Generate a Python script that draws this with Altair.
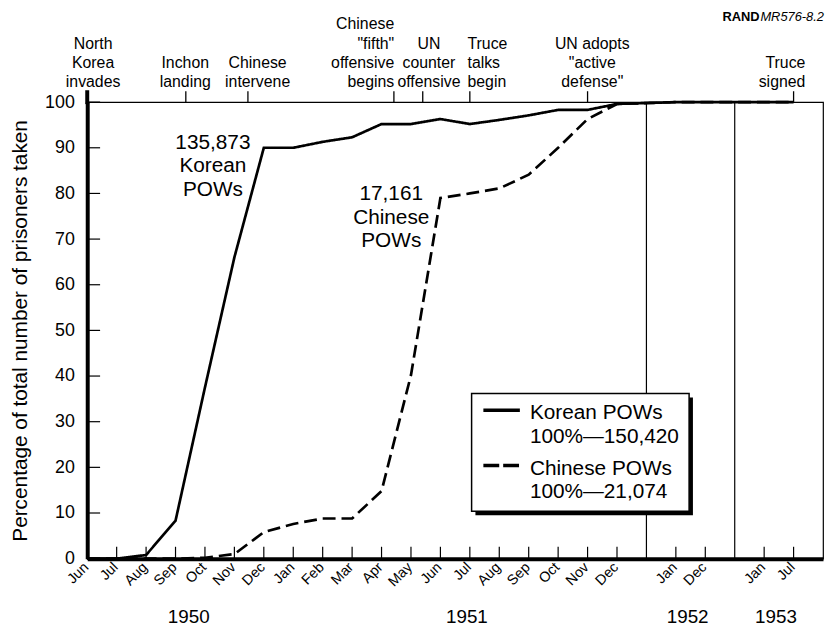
import altair as alt
import pandas as pd

FONT = "Liberation Sans"

# ---------------- data ----------------
month_labels = ["Jun", "Jul", "Aug", "Sep", "Oct", "Nov", "Dec",
                "Jan", "Feb", "Mar", "Apr", "May", "Jun", "Jul", "Aug", "Sep", "Oct", "Nov", "Dec",
                "Jan", "Dec", "Jan", "Jul"]
month_pos = list(range(19)) + [20, 21, 23, 24]
korean = [0, 0, 0.8, 8.3, 37.5, 66, 90, 90, 91.3, 92.3, 95.2, 95.2, 96.3, 95.2,
          96.1, 97.1, 98.3, 98.3, 99.6, 100, 100, 100, 100]
chinese = [0, 0, 0, 0, 0.2, 1.0, 5.8, 7.6, 8.8, 8.8, 14.8, 40.2, 79, 80,
           81.1, 84.1, 90, 96.3, 99.6, 100, 100, 100, 100]
year_labels = ["1950", "1951", "1952", "1953"]
year_centers = [3.45, 12.9, 20.4, 23.4]
year_dividers = [19, 22]
event_labels = ["North\nKorea\ninvades", "Inchon\nlanding", "Chinese\nintervene",
                'Chinese\n"fifth"\noffensive\nbegins', "UN\ncounter\noffensive",
                "Truce\ntalks\nbegin", 'UN adopts\n"active\ndefense"', "Truce\nsigned"]
event_pos = [0, 3.35, 5.46, 10.42, 11.4, 13.0, 17.0, 24.0]
series_notes = ["135,873\nKorean\nPOWs", "17,161\nChinese\nPOWs"]
legend_texts = ["Korean POWs\n100%\u2014150,420", "Chinese POWs\n100%\u201421,074"]
series_names = ["Korean POWs", "Chinese POWs"]
y_ticks = [0, 10, 20, 30, 40, 50, 60, 70, 80, 90, 100]

# ---------------- layout (annotation anchors) ----------------
event_text_x = [0.2, 3.33, 5.79, 10.43, 11.61, 12.92, 17.16, 24.4]
event_align = ["center", "center", "center", "right", "center", "left", "center", "right"]
EV_BASE = -15      # pixel baseline of the last line of each event label
EV_LH = 19.5       # line height of the event labels
note_x = [4.27, 10.33]
note_y = [91.0, 79.8]
leg_box = dict(x=13.06, x2=20.45, y=36.2, y2=10.4)
leg_shadow = dict(x=13.19, x2=20.58, y=35.3, y2=9.5)
leg_line_x = (13.46, 14.70)
leg_line_y = [32.5, 20.4]
leg_text_x = 15.04
leg_text_y = [31.9, 19.7]

W, H = 743, 461
xs = alt.Scale(domain=[0, 25], nice=False, zero=False)
ys = alt.Scale(domain=[0, 100], nice=False)


def X(field):
    return alt.X(field, scale=xs)


def Y(field):
    return alt.Y(field, scale=ys)


# ---------------- frames ----------------
lines_df = pd.DataFrame({
    "pos": month_pos * 2,
    "pct": korean + chinese,
    "series": [series_names[0]] * len(month_pos) + [series_names[1]] * len(month_pos),
})

base_x = alt.X("pos:Q", scale=xs,
               axis=alt.Axis(values=month_pos, labels=False, ticks=False, grid=False,
                             domainWidth=4, domainColor="black", title=None))
base_y = alt.Y("pct:Q", scale=ys,
               axis=alt.Axis(values=y_ticks, ticks=False, grid=False, domainWidth=4,
                             domainColor="black", labelColor="black", labelFontSize=18,
                             labelFont=FONT, labelPadding=13, labelOverlap=False,
                             title="Percentage of total number of prisoners taken",
                             titleFont=FONT, titleFontSize=21, titleFontWeight="normal",
                             titleColor="black", titlePadding=14))

lines = alt.Chart(lines_df).mark_line(strokeWidth=2.7, color="black").encode(
    x=base_x, y=base_y,
    strokeDash=alt.StrokeDash("series:N",
                              scale=alt.Scale(domain=series_names, range=[[1, 0], [13, 6]]),
                              legend=None),
    detail="series:N",
)

month_df = pd.DataFrame({"pos": month_pos, "label": month_labels})
month_text = alt.Chart(month_df).mark_text(
    angle=315, align="right", baseline="middle", fontSize=14.5, font=FONT,
    color="black", dx=-1).encode(
    x=X("pos:Q"), y=alt.value(H + 6), text="label:N")

div_df = pd.DataFrame({"pos": year_dividers})
dividers = alt.Chart(div_df).mark_rule(color="black", strokeWidth=1.2).encode(
    x=X("pos:Q"), y=alt.value(0), y2=alt.value(H))

xt_df = pd.DataFrame({"pos": month_pos[1:]})
xticks = alt.Chart(xt_df).mark_rule(color="black", strokeWidth=1.2).encode(
    x=X("pos:Q"), y=alt.value(H - 12), y2=alt.value(H))

yt_df = pd.DataFrame({"pct": y_ticks[1:]})
yticks = alt.Chart(yt_df).mark_rule(color="black", strokeWidth=1.2).encode(
    y=Y("pct:Q"), x=alt.value(0), x2=alt.value(13))

ev_df = pd.DataFrame({"pos": event_pos})
ev_ticks = alt.Chart(ev_df).mark_rule(color="black", strokeWidth=1.3).encode(
    x=X("pos:Q"), y=alt.value(-11), y2=alt.value(0))
axis_ext = alt.Chart(ev_df.iloc[[0]]).mark_rule(color="black", strokeWidth=4).encode(
    x=X("pos:Q"), y=alt.value(-12), y2=alt.value(2))

# one row per text line of each event label, stacked upward from a common baseline
ev_rows = []
for lab, tx, al in zip(event_labels, event_text_x, event_align):
    parts = lab.split("\n")
    n = len(parts)
    for i, t in enumerate(parts):
        ev_rows.append({"tx": tx, "align": al, "line": t,
                        "ypix": EV_BASE - (n - 1 - i) * EV_LH})
ev_lines_df = pd.DataFrame(ev_rows)

ev_text_layers = []
for a in ["center", "left", "right"]:
    ev_text_layers.append(
        alt.Chart(ev_lines_df).transform_filter(alt.datum.align == a).mark_text(
            align=a, baseline="alphabetic", fontSize=16, font=FONT, color="black").encode(
            x=X("tx:Q"), y=alt.Y("ypix:Q", scale=None, axis=None), text="line:N"))

yr_df = pd.DataFrame({"pos": year_centers, "label": year_labels})
years = alt.Chart(yr_df).mark_text(fontSize=19, font=FONT, color="black",
                                   baseline="middle").encode(
    x=X("pos:Q"), y=alt.value(520), text="label:N")

note_df = pd.DataFrame({"pos": note_x, "pct": note_y, "label": series_notes})
notes = alt.Chart(note_df).mark_text(fontSize=21, font=FONT, color="black",
                                     lineBreak="\n", lineHeight=23.5,
                                     baseline="middle").encode(
    x=X("pos:Q"), y=Y("pct:Q"), text="label:N")

shadow_df = pd.DataFrame([leg_shadow])
shadow = alt.Chart(shadow_df).mark_rect(color="black").encode(
    x=X("x:Q"), x2="x2:Q", y=Y("y:Q"), y2="y2:Q")
box_df = pd.DataFrame([leg_box])
box = alt.Chart(box_df).mark_rect(fill="white", stroke="black", strokeWidth=1.5).encode(
    x=X("x:Q"), x2="x2:Q", y=Y("y:Q"), y2="y2:Q")

leg_df = pd.DataFrame({"series": series_names, "x": [leg_line_x[0]] * 2,
                       "x2": [leg_line_x[1]] * 2, "ly": leg_line_y,
                       "tx": [leg_text_x] * 2, "ty": leg_text_y, "label": legend_texts})
leg_solid = alt.Chart(leg_df.iloc[[0]]).mark_rule(color="black", strokeWidth=3.5).encode(
    x=X("x:Q"), x2="x2:Q", y=Y("ly:Q"))
leg_dash = alt.Chart(leg_df.iloc[[1]]).mark_rule(color="black", strokeWidth=3.5,
                                                  strokeDash=[16, 4]).encode(
    x=X("x:Q"), x2="x2:Q", y=Y("ly:Q"))
leg_text = alt.Chart(leg_df).mark_text(align="left", baseline="middle", fontSize=21,
                                       font=FONT, color="black", lineBreak="\n",
                                       lineHeight=24).encode(
    x=X("tx:Q"), y=Y("ty:Q"), text="label:N")

hdr_df = pd.DataFrame({"t": ["RAND", "MR576-8.2"]})
hdr_bold = alt.Chart(hdr_df.iloc[[0]]).mark_text(align="right", baseline="middle",
                                                 fontSize=13, fontWeight="bold",
                                                 font=FONT, color="black").encode(
    x=alt.value(679), y=alt.value(-86), text="t:N")
hdr_ital = alt.Chart(hdr_df.iloc[[1]]).mark_text(align="right", baseline="middle",
                                                 fontSize=13, fontStyle="italic",
                                                 font=FONT, color="black").encode(
    x=alt.value(744), y=alt.value(-86), text="t:N")

chart = alt.layer(
    lines, dividers, xticks, yticks, shadow, box, leg_solid, leg_dash, leg_text,
    notes, ev_ticks, axis_ext, *ev_text_layers, month_text, years, hdr_bold, hdr_ital,
).properties(
    width=W, height=H,
    autosize=alt.AutoSizeParams(type="none"),
    padding={"left": 80, "top": 92, "right": 2, "bottom": 70},
).configure_view(stroke="black", strokeWidth=1.2).configure_axis(
    domainColor="black"
).configure_axisX(labels=False, ticks=False, grid=False)

chart.save("out.html", embed_options={"renderer": "svg", "actions": False})
